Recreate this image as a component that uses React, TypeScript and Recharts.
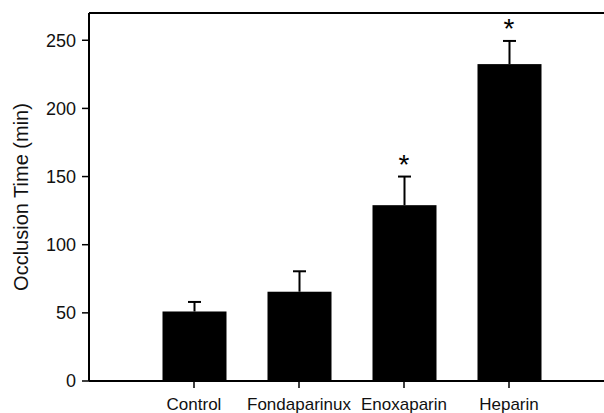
import React from 'react';
import { ComposedChart, Bar, XAxis, YAxis, Scatter, ReferenceLine } from 'recharts';

// Occlusion time per treatment group (mean + SEM)
const categories = ['Control', 'Fondaparinux', 'Enoxaparin', 'Heparin'];
const positions = [1, 2, 3, 4];
const means = [51, 65.5, 129, 232.5];
const sems = [7, 15, 21, 17];
const significant = [false, false, true, true];
const yTicks = [0, 50, 100, 150, 200, 250];

const FONT = '"Liberation Sans", Arial, sans-serif';

const barData = categories.map((name, i) => ({
  name,
  x: positions[i],
  mean: means[i],
  sem: sems[i],
}));

const starData = categories
  .map((name, i) => ({ name, x: positions[i], top: means[i] + sems[i], sig: significant[i] }))
  .filter(d => d.sig);

// bar + upper-only error bar; the error length uses the same px/unit as the bar
const BarWithError = (props: any) => {
  const { x, y, width, height, payload } = props;
  const pxPerUnit = payload.mean ? height / payload.mean : 0;
  const errPx = payload.sem * pxPerUnit;
  const cx = x + width / 2;
  return (
    <g>
      <rect x={x} y={y} width={width} height={height} fill="#000" />
      <line x1={cx} x2={cx} y1={y} y2={y - errPx} stroke="#000" strokeWidth={2} />
      <line x1={cx - 6.5} x2={cx + 6.5} y1={y - errPx} y2={y - errPx} stroke="#000" strokeWidth={2} />
    </g>
  );
};

const Star = (props: any) => {
  const { cx, cy } = props;
  return (
    <text x={cx} y={cy - 3} textAnchor="middle" fontSize={28} fontFamily={FONT} fill="#000">
      *
    </text>
  );
};

export default function App() {
  return (
    <div style={{ position: 'absolute', left: 0, top: 0, width: 604, height: 413, overflow: 'hidden', background: '#fff' }}>
      <ComposedChart width={614} height={413} data={barData} margin={{ top: 13, right: 0, bottom: 0, left: 0 }}>
        <XAxis
          dataKey="x"
          type="number"
          domain={[0, 5]}
          ticks={positions}
          tickFormatter={(v: number) => categories[v - 1]}
          height={32}
          tickSize={7}
          tickMargin={10}
          axisLine={{ stroke: '#000', strokeWidth: 2 }}
          tickLine={{ stroke: '#000', strokeWidth: 1.5 }}
          tick={{ fill: '#111', fontSize: 17, fontFamily: FONT }}
        />
        <YAxis
          type="number"
          domain={[0, 270]}
          ticks={yTicks}
          width={89}
          tickSize={7}
          tickMargin={6}
          axisLine={{ stroke: '#000', strokeWidth: 2 }}
          tickLine={{ stroke: '#000', strokeWidth: 1.5 }}
          tick={{ fill: '#111', fontSize: 18, fontFamily: FONT }}
          label={{
            value: 'Occlusion Time (min)',
            angle: -90,
            position: 'center',
            dx: -24,
            style: { fill: '#111', fontSize: 20, fontFamily: FONT },
          }}
        />
        <ReferenceLine y={270} stroke="#000" strokeWidth={2} />
        <Bar dataKey="mean" fill="#000" barSize={64} shape={<BarWithError />} isAnimationActive={false} />
        <Scatter data={starData} dataKey="top" shape={<Star />} isAnimationActive={false} />
      </ComposedChart>
    </div>
  );
}
